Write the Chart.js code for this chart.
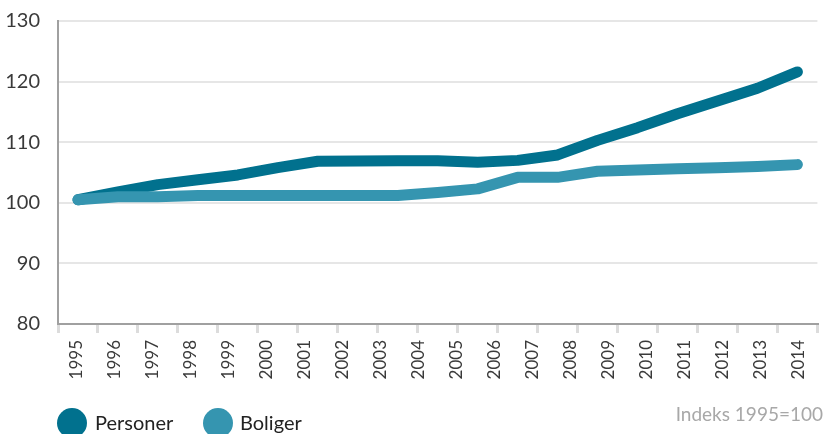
<!DOCTYPE html>
<html>
<head>
<meta charset="utf-8">
<script src="https://cdn.jsdelivr.net/npm/chart.js@4"></script>
<style>
  body { margin: 0; background: #fff; }
  #wrap { width: 825px; height: 434px; position: relative; }
</style>
</head>
<body>
<div id="wrap"><canvas id="indexChart"></canvas></div>
<script>
var years = ['1995', '1996', '1997', '1998', '1999', '2000', '2001', '2002', '2003', '2004',
             '2005', '2006', '2007', '2008', '2009', '2010', '2011', '2012', '2013', '2014'];
var personer = [100.5, 101.8, 103.0, 103.8, 104.6, 105.8, 106.85, 106.9, 106.95, 106.95,
                106.7, 107.0, 107.9, 110.3, 112.4, 114.7, 116.8, 118.9, 121.6];
var boliger = [100.5, 101.0, 101.0, 101.2, 101.2, 101.2, 101.2, 101.2, 101.2, 101.7,
               102.3, 104.2, 104.2, 105.2, 105.4, 105.6, 105.8, 106.0, 106.3];
var yTicks = [80, 90, 100, 110, 120, 130];
var note = 'Indeks 1995=100';

var colPersoner = '#01718e';
var colBoliger = '#3595b0';

function toPoints(values) {
    return values.map(function (v, i) { return {x: i, y: v}; });
}

// legend circles and the index note along the bottom
var bottomTexts = {
    id: 'bottomTexts',
    afterDraw: function (chart) {
        var ctx = chart.ctx;
        var items = [
            {label: chart.data.datasets[0].label, color: chart.data.datasets[0].borderColor, cx: 72, tx: 95},
            {label: chart.data.datasets[1].label, color: chart.data.datasets[1].borderColor, cx: 218, tx: 240}
        ];
        ctx.save();
        ctx.textBaseline = 'middle';
        ctx.font = '20px Lato';
        items.forEach(function (it) {
            ctx.fillStyle = it.color;
            ctx.beginPath();
            ctx.arc(it.cx, 423, 15, 0, Math.PI * 2);
            ctx.fill();
            ctx.fillStyle = '#222';
            ctx.textAlign = 'left';
            ctx.fillText(it.label, it.tx, 424);
        });
        ctx.font = '19px Lato';
        ctx.fillStyle = '#a8a8a8';
        ctx.textAlign = 'right';
        ctx.fillText(note, 823, 415);
        ctx.restore();
    }
};

function pageLoad() {
    Chart.defaults.font.family = 'Lato';
    var ctx = document.getElementById('indexChart');
    var chart = new Chart(ctx, {
        type: 'line',
        data: {
            datasets: [{
                label: 'Personer',
                data: toPoints(personer),
                borderColor: colPersoner,
                backgroundColor: colPersoner,
                borderWidth: 11,
                borderCapStyle: 'round',
                borderJoinStyle: 'round',
                pointRadius: 0,
                tension: 0,
                order: 1
            }, {
                label: 'Boliger',
                data: toPoints(boliger),
                borderColor: colBoliger,
                backgroundColor: colBoliger,
                borderWidth: 11,
                borderCapStyle: 'round',
                borderJoinStyle: 'round',
                pointRadius: 0,
                tension: 0,
                order: 0
            }]
        },
        options: {
            responsive: true,
            maintainAspectRatio: false,
            animation: false,
            layout: { autoPadding: false, padding: { top: 21, right: 2, bottom: 44, left: 0 } },
            plugins: {
                legend: { display: false },
                tooltip: { enabled: false }
            },
            scales: {
                x: {
                    type: 'linear',
                    position: 'bottom',
                    weight: 0,
                    min: -0.5,
                    max: personer.length - 0.5,
                    afterBuildTicks: function (scale) {
                        var t = [];
                        for (var k = 0; k <= personer.length; k++) t.push({value: k - 0.5});
                        scale.ticks = t;
                    },
                    afterFit: function (scale) { scale.height = 10; },
                    ticks: { display: false },
                    grid: {
                        drawOnChartArea: false,
                        drawTicks: true,
                        tickLength: 9,
                        color: '#dcdcdc',
                        lineWidth: 3
                    },
                    border: { color: '#a0a0a0', width: 2 }
                },
                years: {
                    type: 'category',
                    axis: 'x',
                    position: 'bottom',
                    weight: 1,
                    labels: years,
                    offset: true,
                    afterFit: function (scale) { scale.height = 56; },
                    grid: { display: false, drawTicks: false },
                    border: { display: false },
                    ticks: {
                        autoSkip: false,
                        minRotation: 90,
                        maxRotation: 90,
                        padding: 6,
                        color: '#3a3a3a',
                        font: { size: 17 }
                    }
                },
                y: {
                    min: yTicks[0],
                    max: yTicks[yTicks.length - 1],
                    afterFit: function (scale) {
                        scale.width = 58;
                        scale.paddingTop = 0;
                        scale.paddingBottom = 0;
                    },
                    ticks: {
                        stepSize: yTicks[1] - yTicks[0],
                        padding: 18,
                        color: '#3a3a3a',
                        font: { size: 20 }
                    },
                    grid: { color: '#e6e6e6', lineWidth: 2, drawTicks: false },
                    border: { color: '#a0a0a0', width: 2 }
                }
            }
        },
        plugins: [bottomTexts]
    });
}

window.onload = pageLoad;
</script>
</body>
</html>
